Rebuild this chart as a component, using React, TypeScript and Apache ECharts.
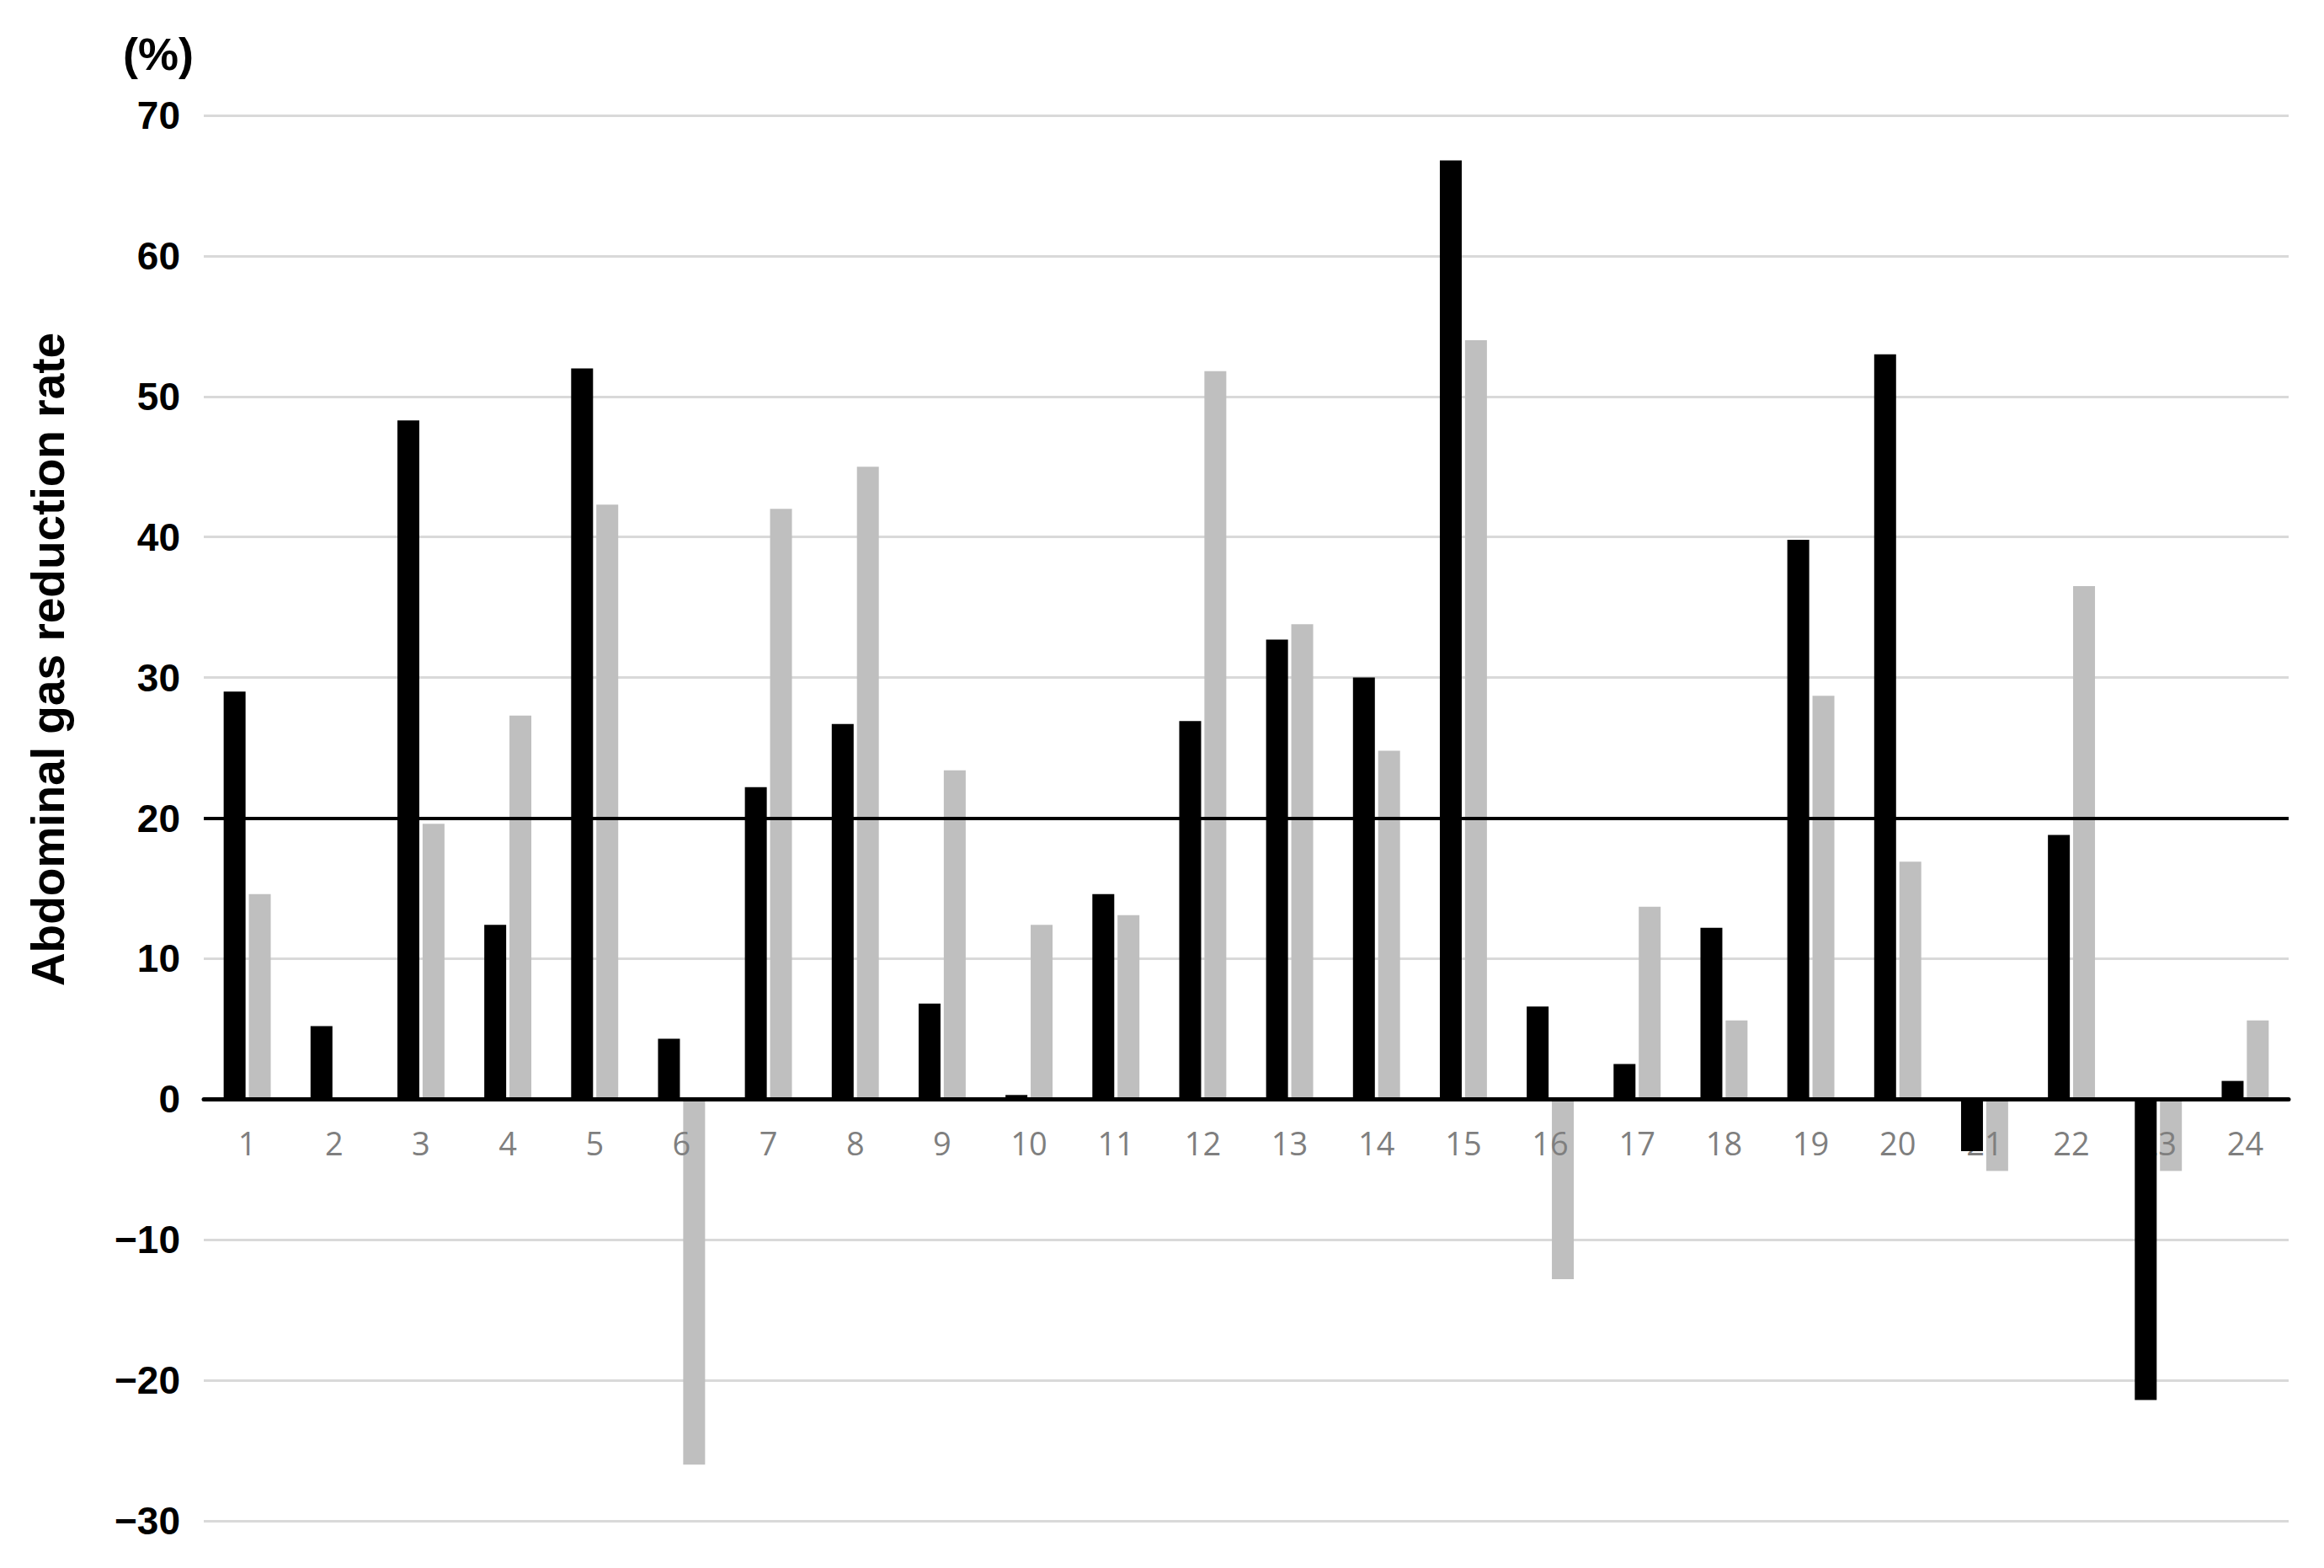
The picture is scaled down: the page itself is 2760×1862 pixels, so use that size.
import React, { useEffect, useRef } from "react";
import * as echarts from "echarts";

const categories = ["1","2","3","4","5","6","7","8","9","10","11","12","13","14","15","16","17","18","19","20","21","22","23","24"];
const blackValues = [29.0, 5.2, 48.3, 12.4, 52.0, 4.3, 22.2, 26.7, 6.8, 0.3, 14.6, 26.9, 32.7, 30.0, 66.8, 6.6, 2.5, 12.2, 39.8, 53.0, -3.7, 18.8, -21.4, 1.3];
const grayValues = [14.6, 0.1, 19.6, 27.3, 42.3, -26.0, 42.0, 45.0, 23.4, 12.4, 13.1, 51.8, 33.8, 24.8, 54.0, -12.8, 13.7, 5.6, 28.7, 16.9, -5.1, 36.5, -5.1, 5.6];
const thresholdValue = 20;
const yMin = -30;
const yMax = 70;
const yInterval = 10;
const yAxisTitle = "Abdominal gas reduction rate";
const unitLabel = "(%)";

const W = 2760;
const H = 1862;
const GRID_TOP = 137;
const GRID_BOTTOM = 56;

export default function App() {
  const ref = useRef<HTMLDivElement>(null);
  useEffect(() => {
    if (!ref.current) return;
    const chart = echarts.init(ref.current, null, { renderer: "svg" });
    const gridH = H - GRID_TOP - GRID_BOTTOM;
    // move the whole x axis (line + labels) up to the zero level
    const zeroOffset = -(gridH * (0 - yMin)) / (yMax - yMin);
    chart.setOption({
      animation: false,
      backgroundColor: "#ffffff",
      grid: { left: 242, right: 42, top: GRID_TOP, bottom: GRID_BOTTOM, containLabel: false },
      xAxis: {
        type: "category",
        data: categories,
        offset: zeroOffset,
        axisLine: { onZero: false, lineStyle: { color: "#000000", width: 5 } },
        axisTick: { show: false },
        axisLabel: {
          color: "#7f7f7f",
          fontFamily: "Open Sans",
          fontSize: 38,
          margin: 33,
        },
        splitLine: { show: false },
        z: 2,
      },
      yAxis: {
        type: "value",
        min: yMin,
        max: yMax,
        interval: yInterval,
        axisLine: { show: false },
        axisTick: { show: false },
        axisLabel: {
          color: "#000000",
          fontFamily: "Liberation Sans",
          fontWeight: "bold",
          fontSize: 46,
          margin: 28,
          formatter: (v: number) => (v < 0 ? "\u2212" + Math.abs(v) : String(v)),
        },
        splitLine: { show: true, lineStyle: { color: "#d9d9d9", width: 3 } },
        z: 0,
      },
      graphic: [
        {
          type: "text",
          x: 57,
          y: 783,
          rotation: Math.PI / 2,
          style: {
            text: yAxisTitle,
            fill: "#000000",
            font: "bold 55px 'Liberation Sans'",
            textAlign: "center",
            textVerticalAlign: "middle",
          },
        },
        {
          type: "text",
          x: 188,
          y: 64,
          style: {
            text: unitLabel,
            fill: "#000000",
            font: "bold 54px 'Liberation Sans'",
            textAlign: "center",
            textVerticalAlign: "middle",
          },
        },
      ],
      series: [
        {
          type: "bar",
          data: blackValues,
          barWidth: 26,
          barGap: "15%",
          z: 3,
          itemStyle: { color: "#000000" },
          markLine: {
            silent: true,
            symbol: ["none", "none"],
            label: { show: false },
            lineStyle: { color: "#000000", width: 4, type: "solid" },
            data: [{ yAxis: thresholdValue }],
          },
        },
        {
          type: "bar",
          data: grayValues,
          barWidth: 26,
          barGap: "15%",
          z: 1,
          itemStyle: { color: "#bfbfbf" },
        },
      ],
    });
    return () => chart.dispose();
  }, []);
  return (
    <div
      ref={ref}
      style={{ position: "fixed", left: 0, top: 0, width: W, height: H }}
    />
  );
}
